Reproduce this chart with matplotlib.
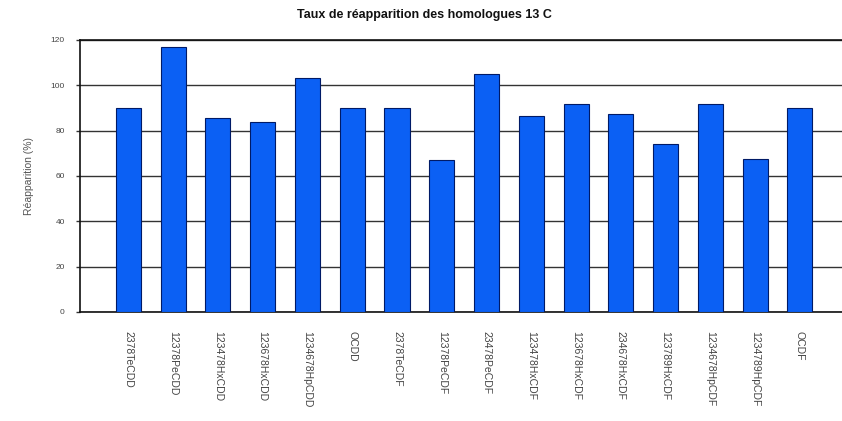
import matplotlib
matplotlib.use("Agg")
import matplotlib.pyplot as plt
import numpy as np

plt.rcParams['font.family'] = ['Liberation Sans', 'DejaVu Sans']

categories = ["2378TeCDD", "12378PeCDD", "123478HxCDD", "123678HxCDD",
              "1234678HpCDD", "OCDD", "2378TeCDF", "12378PeCDF",
              "23478PeCDF", "123478HxCDF", "123678HxCDF", "234678HxCDF",
              "123789HxCDF", "1234678HpCDF", "1234789HpCDF", "OCDF"]
values = [90.1, 117.0, 85.7, 83.9, 103.1, 89.9, 90.1, 67.0,
          105.0, 86.5, 91.7, 87.2, 74.1, 91.6, 67.5, 90.0]
yticks = [0, 20, 40, 60, 80, 100, 120]

W, H = 842, 421
fig = plt.figure(figsize=(W/100, H/100), dpi=100)
left, right, top, bottom = 80, 842, 40, 312
ax = fig.add_axes([left/W, (H-bottom)/H, (right-left)/W, (bottom-top)/H])

x = np.arange(len(categories))
ax.bar(x, values, width=0.56, color='#0b60f4', edgecolor='#001a66',
       linewidth=0.8, zorder=3)

ax.set_ylim(0, 120)
ax.set_xlim(-1.08, 15.94)
ax.set_yticks(yticks)
ax.set_yticklabels([str(t) for t in yticks], fontsize=6, color='#444444')
ax.yaxis.grid(True, color='#333333', linewidth=1.0, zorder=0)
ax.tick_params(axis='y', length=3, width=1, color='#333333', pad=8)
ax.set_xticks(x)
ax.set_xticklabels(categories, rotation=-90, fontsize=7.5, color='#444444',
                   va='top', ha='center')
ax.tick_params(axis='x', length=0, pad=14)

for s in ['top', 'left', 'bottom']:
    ax.spines[s].set_color('#111111')
    ax.spines[s].set_linewidth(1.2)
ax.spines['right'].set_visible(False)

ax.set_ylabel("Réapparition (%)", fontsize=7.5, color='#555555', labelpad=12)
fig.text(424/W, 1 - 15/H, "Taux de réapparition des homologues 13 C",
         ha='center', va='center', fontsize=9, fontweight='bold', color='#111111')

fig.savefig("out.png", dpi=100, facecolor='white')
